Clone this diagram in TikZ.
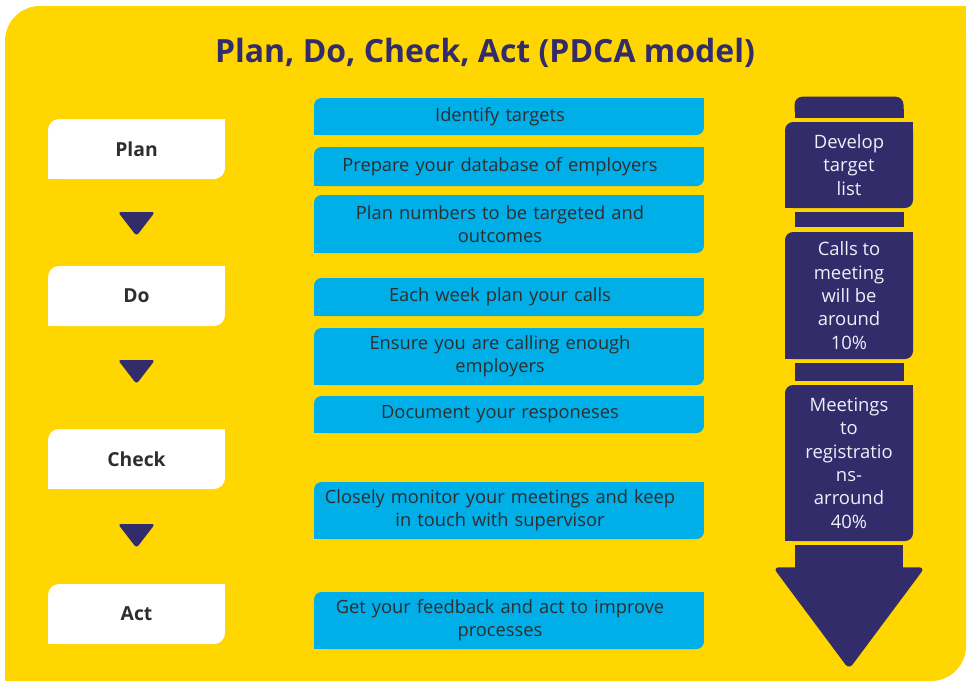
\documentclass[tikz,border=0pt]{standalone}
\usepackage{fontspec}
\setmainfont{Open Sans}
\usepackage{xcolor}
\usetikzlibrary{calc}
\definecolor{pdcayellow}{RGB}{255,214,0}
\definecolor{pdcablue}{RGB}{0,174,232}
\definecolor{pdcanavy}{RGB}{51,44,107}
\definecolor{pdcatext}{RGB}{46,46,46}
\definecolor{pdcalight}{RGB}{240,238,248}
\tikzset{
  % box rounded at top left and bottom right only
  tabfill/.style 2 args = {path picture={
      \fill[#1, rounded corners=#2] (path picture bounding box.south west)
        rectangle (path picture bounding box.north east);
      \fill[#1] (path picture bounding box.north east) rectangle ++(-#2,-#2);
      \fill[#1] (path picture bounding box.south west) rectangle ++(#2,#2);}},
  stage/.style  = {tabfill={white}{0.22cm}, minimum width=3.54cm,
                   minimum height=1.2cm, inner sep=0pt, text=pdcatext,
                   font=\fontsize{11}{13}\selectfont\bfseries},
  % text sits a little left of the box centre
  task/.style   = {tabfill={pdcablue}{0.15cm}, text width=7.8cm,
                   inner sep=0pt, text=pdcatext,
                   font=\fontsize{10.4}{13}\selectfont,
                   execute at begin node={\parindent=0pt\parfillskip=0pt
                     \leftskip=0pt plus 1fil\rightskip=0.36cm plus 1fil}},
  metric/.style = {tabfill={pdcanavy}{0.16cm}, minimum width=2.56cm,
                   inner sep=0pt, align=center, text=pdcalight,
                   font=\fontsize{10.5}{13.3}\selectfont},
  flowtri/.style = {fill=pdcanavy, rounded corners=0.06cm},
  column/.style  = {fill=pdcanavy},
}

\begin{document}
\begin{tikzpicture}[x=0.02cm, y=-0.02cm]
\useasboundingbox (0,0) rectangle (969,681);
\fill[white] (0,0) rectangle (969,681);
% ---------------- yellow panel ----------------
\fill[pdcayellow, rounded corners=0.7cm] (5,6) rectangle (966,681);
\fill[pdcayellow] (966,6) rectangle (930,40);
\fill[pdcayellow] (5,681) rectangle (40,640);
\node[anchor=base, text=pdcanavy, font=\fontsize{18.2}{22}\selectfont\bfseries]
  (title) at (485,62) {Plan, Do, Check, Act (PDCA model)};
% ---------------- stages ----------------
\node[stage] (plan)  at (136.5,149) {Plan};
\node[stage] (do)    at (136.5,296) {Do};
\node[stage] (check) at (136.5,459) {Check};
\node[stage] (act)   at (136.5,614) {Act};
\foreach \ty in {212,360,524}
  \fill[flowtri] (118,\ty) -- (155,\ty) -- (136.5,\ty+24) -- cycle;
% ---------------- tasks ----------------
\node[task, minimum height=0.74cm] (targets)  at (509,116.5) {Identify targets};
\node[task, minimum height=0.78cm] (database) at (509,166.5) {Prepare your database of employers};
\node[task, minimum height=1.16cm] (numbers)  at (509,224)
  {Plan numbers to be targeted and\\outcomes};
\node[task, minimum height=0.76cm] (week)     at (509,297) {Each week plan your calls};
\node[task, minimum height=1.14cm] (enough)   at (509,356.5)
  {Ensure you are calling enough\\employers};
\node[task, minimum height=0.74cm] (document) at (509,414.5) {Document your responeses};
\node[task, minimum height=1.14cm] (monitor)  at (509,510.5)
  {Closely monitor your meetings and keep\\in touch with supervisor};
\node[task, minimum height=1.14cm] (feedback) at (509,620.5)
  {Get your feedback and act to improve\\processes};
% ---------------- funnel column ----------------
\node[metric, minimum height=1.72cm] (develop) at (849,165) {Develop\\target\\list};
\node[metric, minimum height=2.54cm] (calls)   at (849,295.5)
  {Calls to\\meeting\\will be\\around\\10\%};
\node[metric, minimum height=3.12cm] (meet)    at (849,463)
  {Meetings\\to\\registratio\\ns-\\arround\\40\%};
% cap on top
\fill[column, rounded corners=0.16cm] ([xshift=-1.09cm, yshift=0.08cm]develop.north)
  rectangle ([xshift=1.09cm, yshift=0.5cm]develop.north);
\fill[column] ([xshift=-1.09cm, yshift=0.08cm]develop.north)
  rectangle ([xshift=1.09cm, yshift=0.25cm]develop.north);
% links between the boxes
\fill[column] ([xshift=-1.09cm, yshift=-0.08cm]develop.south)
  rectangle ([xshift=1.09cm, yshift=0.1cm]calls.north);
\fill[column] ([xshift=-1.09cm, yshift=-0.08cm]calls.south)
  rectangle ([xshift=1.09cm, yshift=0.08cm]meet.north);
% big arrow at the bottom
\fill[column] ([xshift=-1.08cm, yshift=-0.08cm]meet.south)
  rectangle ([xshift=1.08cm, yshift=-0.56cm]meet.south);
\fill[column, rounded corners=0.12cm] ([xshift=-1.52cm, yshift=-0.52cm]meet.south)
  -- ([xshift=1.52cm, yshift=-0.52cm]meet.south)
  -- ([yshift=-2.56cm]meet.south) -- cycle;
\end{tikzpicture}
\end{document}
